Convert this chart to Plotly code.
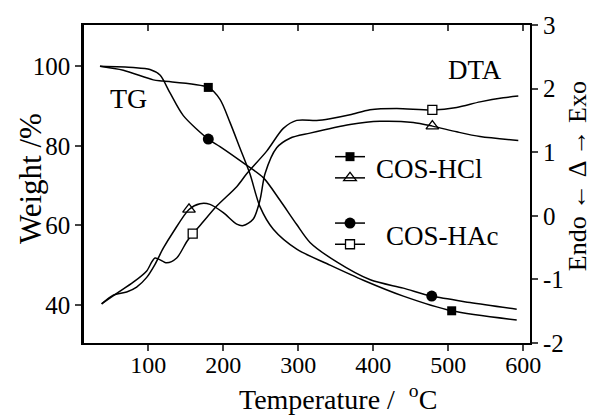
import plotly.graph_objects as go

# ---------------- data ----------------
# TG curves (left axis, Weight %)
hcl_tg_t = [35.6, 66.7, 106.7, 120, 180, 195.6, 208.9, 222.3, 235.6, 248.9, 266.7, 297.9, 342.3, 386.7, 440, 504.5, 591.2]
hcl_tg_w = [100.0, 99.0, 96.6, 96.3, 94.7, 91.7, 85.9, 79.4, 72.9, 64.7, 59.0, 54.0, 50.0, 46.2, 42.2, 38.5, 36.2]

hac_tg_t = [35.6, 80, 102.3, 115.6, 129, 146.7, 180, 195.6, 226.7, 253.3, 275.6, 297.9, 315.6, 351.2, 396, 440, 477.9, 528.9, 591.2]
hac_tg_w = [100.0, 99.7, 99.2, 97.8, 93.3, 87.6, 81.7, 79.8, 75.7, 72.0, 66.3, 60.2, 55.7, 50.8, 46.3, 44.2, 42.2, 40.6, 38.9]

# DTA curves (right axis)
hcl_dta_t = [37.8, 53.3, 71.2, 84.5, 97.9, 109, 120, 133.3, 154.3, 169, 182.3, 200, 217.9, 226.7, 240, 249, 255.6, 271.2, 289, 315.6, 369, 409, 453.3, 478.7, 511.2, 542.3, 593.3]
hcl_dta_v = [-1.385, -1.247, -1.197, -1.12, -0.968, -0.763, -0.51, -0.255, 0.10, 0.19, 0.18, 0.05, -0.13, -0.153, -0.05, 0.25, 0.66, 1.07, 1.22, 1.30, 1.435, 1.485, 1.466, 1.41, 1.32, 1.246, 1.185]

hac_dta_t = [37.8, 57.9, 80, 97.9, 109, 124.5, 137.9, 151.2, 159.2, 169, 191.2, 217.9, 231.2, 257.9, 280, 297.9, 324.5, 342.3, 369, 395.6, 431.2, 478.7, 511.2, 542.3, 573.3, 593.3]
hac_dta_v = [-1.385, -1.22, -1.044, -0.866, -0.663, -0.739, -0.663, -0.408, -0.281, -0.153, 0.153, 0.458, 0.661, 1.017, 1.374, 1.50, 1.50, 1.527, 1.588, 1.669, 1.689, 1.664, 1.704, 1.791, 1.856, 1.882]

# marker positions
hcl_tg_mk_t = [180, 504.5]
hcl_tg_mk_w = [94.7, 38.5]
hac_tg_mk_t = [180, 477.9]
hac_tg_mk_w = [81.7, 42.2]
hcl_dta_mk_t = [154.3, 478.7]
hcl_dta_mk_v = [0.10, 1.41]
hac_dta_mk_t = [159.2, 478.7]
hac_dta_mk_v = [-0.281, 1.664]

x_ticks = [100, 200, 300, 400, 500, 600]
left_ticks = [40, 60, 80, 100]
right_ticks = [-2, -1, 0, 1, 2, 3]
right_ticktext = ["-2", "-1", "0", "1", "2", "3"]

FONT = "Liberation Serif"
LW = 1.5

fig = go.Figure()

def line(x, y, yax):
    fig.add_trace(go.Scatter(x=x, y=y, yaxis=yax, mode="lines",
                             line=dict(color="black", width=LW, shape="spline", smoothing=0.8),
                             showlegend=False, hoverinfo="skip"))

line(hcl_tg_t, hcl_tg_w, "y")
line(hac_tg_t, hac_tg_w, "y")
line(hcl_dta_t, hcl_dta_v, "y2")
line(hac_dta_t, hac_dta_v, "y2")

mk_hcl_tg = dict(symbol="square", size=9, color="black")
mk_hac_tg = dict(symbol="circle", size=11, color="black")
mk_hcl_dta = dict(symbol="triangle-up-open", size=11, color="black", line=dict(width=1.3, color="black"))
mk_hac_dta = dict(symbol="square", size=9, color="white", line=dict(width=1.3, color="black"))

fig.add_trace(go.Scatter(x=hcl_tg_mk_t, y=hcl_tg_mk_w, mode="markers", marker=mk_hcl_tg, showlegend=False))
fig.add_trace(go.Scatter(x=hac_tg_mk_t, y=hac_tg_mk_w, mode="markers", marker=mk_hac_tg, showlegend=False))
fig.add_trace(go.Scatter(x=hcl_dta_mk_t, y=hcl_dta_mk_v, yaxis="y2", mode="markers", marker=mk_hcl_dta, showlegend=False))
fig.add_trace(go.Scatter(x=hac_dta_mk_t, y=hac_dta_mk_v, yaxis="y2", mode="markers", marker=mk_hac_dta, showlegend=False))

# legend entries (symbols only; labels as annotations)
for mk, grp in [(mk_hcl_tg, "g1"), (mk_hcl_dta, "g1"), (mk_hac_tg, "g2"), (mk_hac_dta, "g2")]:
    fig.add_trace(go.Scatter(x=[None], y=[None], mode="lines+markers", name="\u200a",
                             legendgroup=grp, marker=mk, line=dict(color="black", width=LW)))

# top axis carrier
fig.add_trace(go.Scatter(x=[None], y=[None], xaxis="x2", showlegend=False))

xr = [14.3, 608.9]
axis_font = dict(family=FONT, size=25, color="black")

fig.update_layout(
    width=591, height=416,
    margin=dict(l=84, r=61, t=17, b=73),
    paper_bgcolor="white", plot_bgcolor="white",
    font=dict(family=FONT, color="black"),
    xaxis=dict(range=xr, tickvals=x_ticks, ticks="outside", ticklen=6, tickwidth=1.5,
               showline=True, linewidth=2, linecolor="black", showgrid=False, zeroline=False,
               tickfont=dict(family=FONT, size=24, color="black"), ticklabelstandoff=-7),
    xaxis2=dict(range=xr, overlaying="x", side="top", anchor="y", tickvals=x_ticks,
                ticks="inside", ticklen=6, tickwidth=1.5, showticklabels=False,
                showline=True, linewidth=2, linecolor="black", showgrid=False, zeroline=False),
    yaxis=dict(range=[30.4, 110.4], tickvals=left_ticks, ticks="outside", ticklen=6, tickwidth=1.5,
               showline=True, linewidth=2.5, linecolor="black", showgrid=False, zeroline=False,
               tickfont=axis_font),
    yaxis2=dict(range=[-2, 3], overlaying="y", side="right", anchor="x", tickvals=right_ticks,
                ticktext=right_ticktext, ticks="outside", ticklen=6, tickwidth=1.5,
                showline=True, linewidth=2, linecolor="black", showgrid=False, zeroline=False,
                tickfont=dict(family=FONT, size=25, color="black")),
    legend=dict(x=0.5516, y=0.635, xanchor="left", yanchor="top", bgcolor="rgba(0,0,0,0)",
                font=dict(family=FONT, size=14), tracegroupgap=24, traceorder="grouped",
                borderwidth=0, itemwidth=30),
)

def px_to_paper(px, py):
    return (px - 84) / 446, (343.3 - py) / 326.5

annos = [
    ("Temperature /  <sup>o</sup>C", 338, 399, 28, 0),
    ("Weight /%", 30, 175, 31, -90),
    ("Endo ← Δ → Exo", 577, 172, 26, -90),
    ("TG", 128, 92, 28, 0),
    ("DTA", 475, 63, 27, 0),
    ("COS-HCl", 429, 165, 27, 0),
    ("COS-HAc", 442, 233, 27, 0),
]
for text, px, py, size, ang in annos:
    ax_, ay_ = px_to_paper(px, py)
    fig.add_annotation(x=ax_, y=ay_, xref="paper", yref="paper", text=text, showarrow=False,
                       xanchor="center", yanchor="middle", textangle=ang,
                       font=dict(family=FONT, size=size, color="black"))

fig.write_html("out.html")
